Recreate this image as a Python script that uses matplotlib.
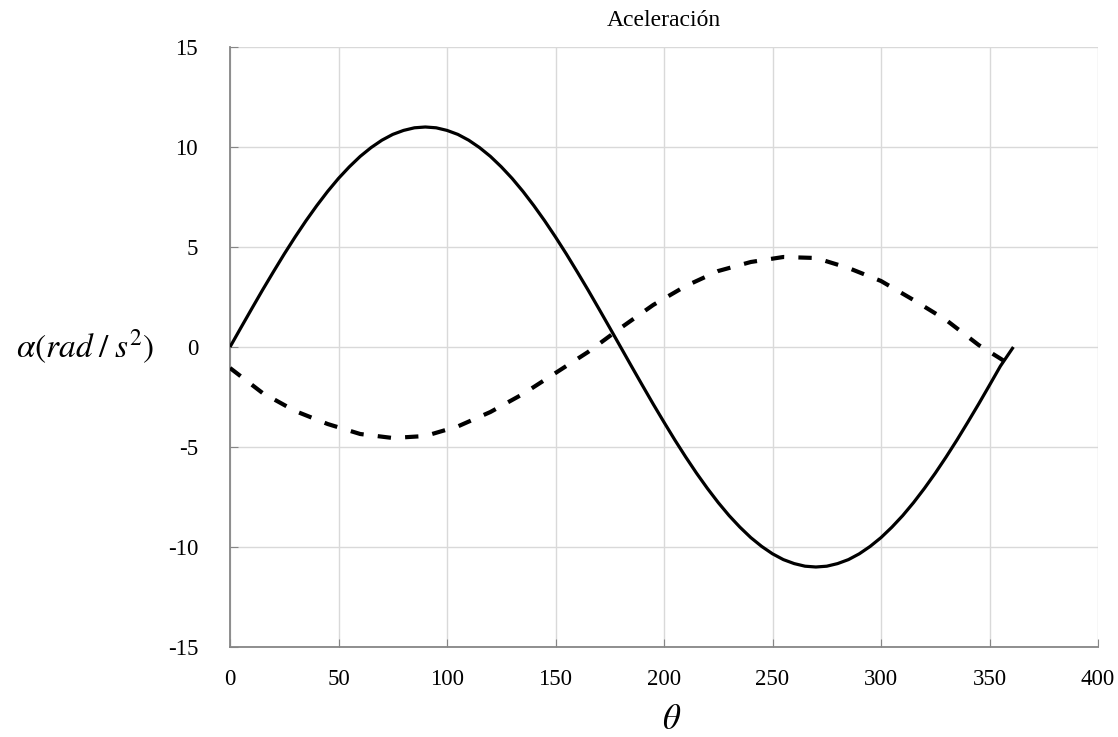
import numpy as np
import matplotlib.pyplot as plt

plt.rcParams['font.family'] = ['Liberation Serif', 'DejaVu Serif']
plt.rcParams['mathtext.fontset'] = 'stix'
plt.rcParams['axes.unicode_minus'] = False

# solid curve (read every 5 deg)
theta_solid = [0, 5, 10, 15, 20, 25, 30, 35, 40, 45, 50, 55, 60, 65, 70, 75, 80, 85, 90,
               95, 100, 105, 110, 115, 120, 125, 130, 135, 140, 145, 150, 155, 160, 165, 170, 175, 180,
               185, 190, 195, 200, 205, 210, 215, 220, 225, 230, 235, 240, 245, 250, 255, 260, 265, 270,
               275, 280, 285, 290, 295, 300, 305, 310, 315, 320, 325, 330, 335, 340, 345, 350, 355, 361]
alpha_solid = [0, 0.96, 1.91, 2.85, 3.76, 4.65, 5.5, 6.31, 7.07, 7.78, 8.43, 9.01, 9.53, 9.97, 10.34, 10.63, 10.83, 10.96, 11.0,
               10.96, 10.83, 10.63, 10.34, 9.97, 9.53, 9.01, 8.43, 7.78, 7.07, 6.31, 5.5, 4.65, 3.76, 2.85, 1.91, 0.96, 0,
               -0.96, -1.91, -2.85, -3.76, -4.65, -5.5, -6.31, -7.07, -7.78, -8.43, -9.01, -9.53, -9.97, -10.34, -10.63, -10.83, -10.96, -11.0,
               -10.96, -10.83, -10.63, -10.34, -9.97, -9.53, -9.01, -8.43, -7.78, -7.07, -6.31, -5.5, -4.65, -3.76, -2.85, -1.91, -0.96, 0]

# dashed curve (read every 15 deg)
theta_dash = [0, 15, 30, 45, 60, 75, 90, 105, 120, 135, 150, 165, 180,
              195, 210, 225, 240, 255, 270, 285, 300, 315, 330, 345, 359]
alpha_dash = [-1.05, -2.3, -3.2, -3.85, -4.35, -4.55, -4.45, -3.97, -3.25, -2.35, -1.3, -0.25, 0.95,
              2.1, 3.05, 3.8, 4.25, 4.5, 4.45, 3.95, 3.3, 2.35, 1.35, 0.1, -0.85]

xticks = [0, 50, 100, 150, 200, 250, 300, 350, 400]
yticks = [-15, -10, -5, 0, 5, 10, 15]

fig = plt.figure(figsize=(11.18, 7.37), dpi=100)
ax = fig.add_axes([230/1118, 1 - 647/737, (1098 - 230)/1118, (647 - 47)/737])

ax.plot(theta_solid, alpha_solid, color='black', lw=2.3, solid_capstyle='butt', zorder=3)
ax.plot(theta_dash, alpha_dash, color='black', lw=3.0, dashes=(3.2, 3.4), dash_capstyle='butt', zorder=3)

ax.set_xlim(0, 400)
ax.set_ylim(-15, 15)
ax.set_xticks(xticks)
ax.set_yticks(yticks)
ax.grid(True, color='#d9d9d9', lw=1)
ax.set_axisbelow(True)

for s in ['top', 'right']:
    ax.spines[s].set_visible(False)
for s in ['left', 'bottom']:
    ax.spines[s].set_color('#868686')
    ax.spines[s].set_linewidth(1.3)

ax.tick_params(axis='x', direction='in', length=6, color='#868686', labelsize=16.5, pad=16)
ax.tick_params(axis='y', direction='in', length=6, color='#868686', labelsize=16.5, pad=23)

ax.set_title('Aceleración', fontsize=17, pad=15)
ax.set_xlabel(r'$\theta$', fontsize=25, va='center')
ax.xaxis.set_label_coords(0.509, -0.123)
ax.set_ylabel(r'$\alpha(rad\;/\;s^{2})$', fontsize=24, rotation=0, ha='center', va='center')
ax.yaxis.set_label_coords(-0.167, 0.5)

fig.savefig('out.png', dpi=100)
